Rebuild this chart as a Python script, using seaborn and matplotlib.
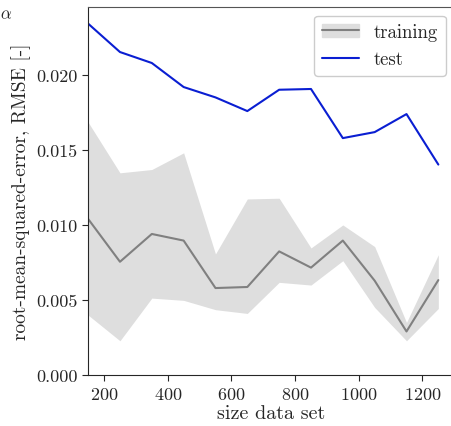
import numpy as np
import pandas as pd
import matplotlib
matplotlib.use('Agg')
import matplotlib.pyplot as plt
import seaborn as sns
from matplotlib.patches import Patch
from matplotlib.lines import Line2D

# data
size = [150, 250, 350, 450, 550, 650, 750, 850, 950, 1050, 1150, 1250]
test_rmse = [0.0234, 0.02151, 0.02078, 0.01918, 0.01849, 0.01758,
             0.0190, 0.01905, 0.01578, 0.01618, 0.01738, 0.01402]
train_mean = [0.0104, 0.00755, 0.0094, 0.00896, 0.0058, 0.00587,
              0.00824, 0.00716, 0.00896, 0.00629, 0.00291, 0.00633]
train_upper = [0.01684, 0.01347, 0.01369, 0.0148, 0.00807, 0.01173,
               0.01178, 0.00847, 0.0100, 0.00856, 0.00351, 0.00802]
train_lower = [0.0040, 0.00229, 0.00513, 0.00498, 0.00436, 0.00411,
               0.00618, 0.0060, 0.00762, 0.00451, 0.00229, 0.00444]

sns.set_style('ticks')
plt.rcParams['font.family'] = ['serif']
plt.rcParams['font.serif'] = ['cmr10', 'DejaVu Serif']
plt.rcParams['mathtext.fontset'] = 'cm'
plt.rcParams['axes.formatter.use_mathtext'] = True
plt.rcParams['axes.unicode_minus'] = False

df = pd.DataFrame({
    'size': size * 2,
    'rmse': train_mean + test_rmse,
    'set': ['training'] * len(size) + ['test'] * len(size),
})

fig = plt.figure(figsize=(4.52, 4.27), dpi=100)
ax = fig.add_axes([0.195, 0.119, 0.81, 0.862])

ax.fill_between(size, train_lower, train_upper, color='#dedede', lw=0)
sns.lineplot(data=df, x='size', y='rmse', hue='set',
             palette={'training': '#808080', 'test': '#0a1ed2'},
             lw=1.5, ax=ax, legend=False)

ax.set_xlim(150, 1300)
ax.set_ylim(0, 0.0245)
ax.set_xticks([200, 400, 600, 800, 1000, 1200])
ax.set_yticks([0.0, 0.005, 0.010, 0.015, 0.020])
ax.set_yticklabels(['0.000', '0.005', '0.010', '0.015', '0.020'])
ax.tick_params(labelsize=13, direction='out', length=4)
ax.set_xlabel('size data set', fontsize=14.5, labelpad=2)
ax.set_ylabel('root-mean-squared-error, RMSE [-]', fontsize=14, labelpad=4)
ax.spines['top'].set_color('#555555')

h_train = (Patch(color='#dedede'), Line2D([], [], color='#808080', lw=1.5))
h_test = Line2D([], [], color='#0a1ed2', lw=1.5)
ax.legend([h_train, h_test], ['training', 'test'], loc='upper right',
          fontsize=13.5, frameon=True, fancybox=True, framealpha=1,
          edgecolor='#cccccc', handlelength=2.0, handletextpad=0.8,
          borderaxespad=0.45)

fig.text(0.0, 0.955, r'$\alpha$', fontsize=12)

fig.savefig('out.png', dpi=100)
